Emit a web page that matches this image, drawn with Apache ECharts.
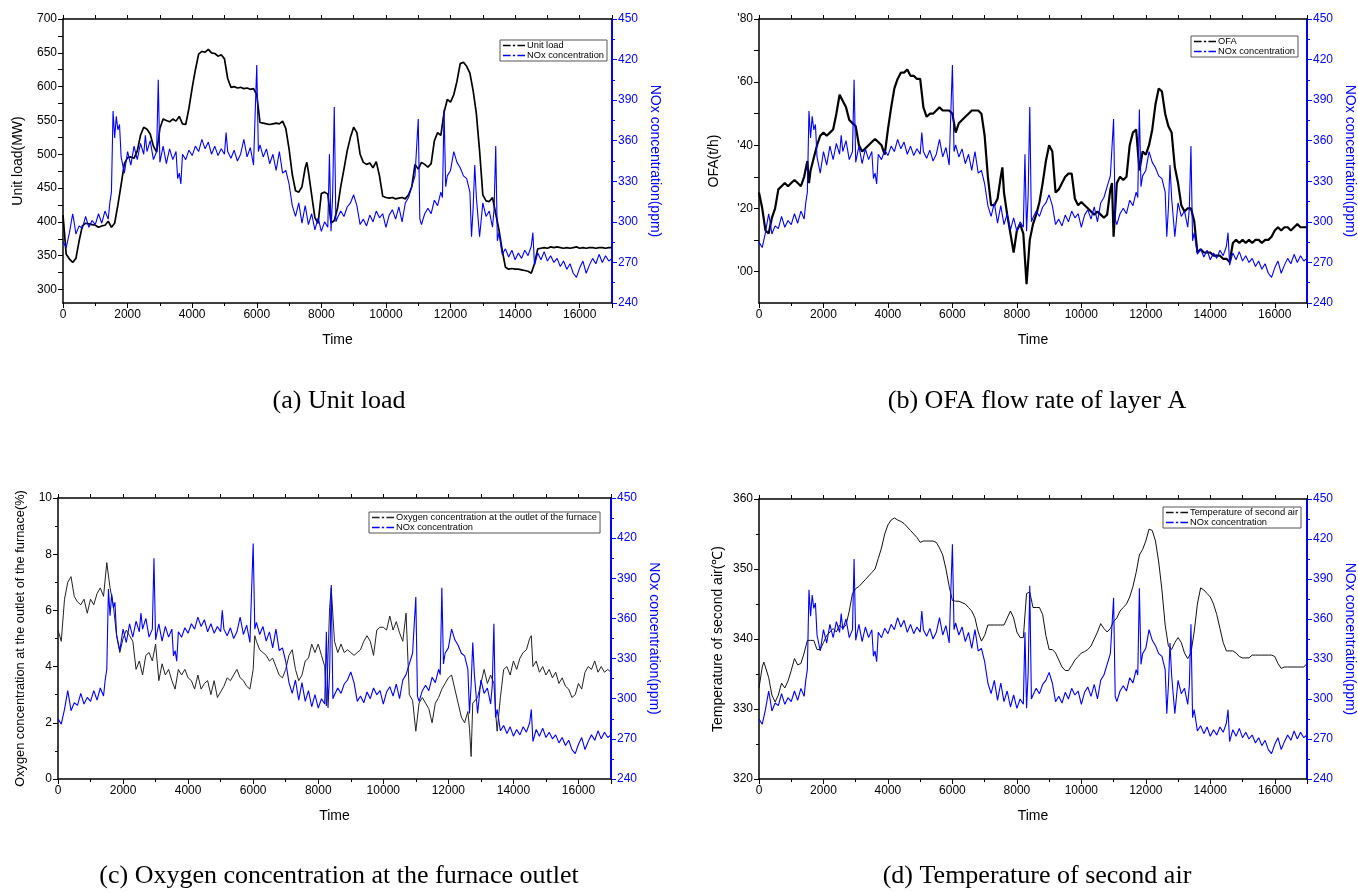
<!DOCTYPE html>
<html>
<head>
<meta charset="utf-8">
<script src="https://cdn.jsdelivr.net/npm/echarts@6/dist/echarts.min.js"></script>
<style>
  html, body { margin: 0; padding: 0; background: #fff; }
  #main { width: 1358px; height: 892px; }
</style>
</head>
<body>
<div id="main"></div>
<script>
// time (s), value pairs
const noxData = [[0,285],[100,281],[200,292],[300,306],[350,299],[400,291],[500,297],[600,295],[700,304],[800,296],[900,301],[1000,298],[1100,306],[1200,299],[1300,308],[1400,302],[1450,314],[1500,322],[1550,382],[1600,362],[1650,378],[1700,368],[1750,372],[1800,348],[1900,336],[2000,352],[2100,342],[2200,356],[2300,346],[2400,358],[2500,350],[2550,364],[2600,352],[2700,360],[2800,346],[2900,352],[2950,405],[3000,344],[3100,356],[3200,343],[3300,354],[3400,346],[3500,352],[3550,332],[3600,336],[3650,328],[3700,350],[3800,346],[3900,353],[4000,349],[4100,356],[4200,352],[4300,361],[4400,354],[4500,359],[4600,350],[4700,356],[4800,349],[4900,354],[5000,350],[5050,366],[5100,352],[5200,347],[5300,353],[5400,345],[5500,350],[5600,361],[5700,348],[5800,355],[5900,342],[5950,380],[6000,416],[6050,352],[6100,357],[6200,348],[6300,354],[6400,343],[6500,350],[6600,338],[6700,352],[6800,336],[6900,338],[7000,328],[7100,312],[7200,304],[7300,314],[7400,299],[7500,312],[7600,298],[7700,306],[7800,294],[7900,303],[8000,293],[8100,300],[8200,296],[8250,350],[8300,293],[8350,320],[8400,385],[8450,300],[8500,303],[8600,308],[8700,304],[8800,311],[8900,314],[9000,320],[9100,312],[9200,298],[9300,302],[9400,297],[9500,305],[9600,300],[9700,308],[9800,303],[9900,306],[10000,296],[10100,305],[10200,309],[10300,302],[10400,311],[10500,300],[10600,314],[10700,318],[10800,326],[10900,334],[11000,376],[11050,302],[11100,298],[11200,306],[11300,310],[11400,306],[11500,316],[11600,312],[11700,322],[11750,318],[11800,383],[11850,326],[11900,334],[12000,338],[12100,352],[12200,344],[12300,340],[12400,334],[12500,332],[12600,322],[12650,289],[12700,310],[12750,342],[12800,318],[12900,289],[13000,314],[13100,304],[13200,308],[13300,296],[13350,310],[13400,356],[13450,286],[13500,292],[13600,276],[13700,280],[13800,274],[13900,279],[14000,272],[14100,277],[14200,273],[14300,279],[14400,275],[14500,282],[14550,292],[14600,268],[14700,277],[14800,272],[14900,278],[15000,271],[15100,275],[15200,270],[15300,273],[15400,267],[15500,271],[15600,265],[15700,269],[15800,262],[15900,259],[16000,266],[16100,271],[16200,262],[16300,268],[16400,273],[16500,269],[16600,276],[16700,270],[16800,275],[16900,271],[17000,273]];

const loadData = [[0,410],[100,352],[200,345],[300,340],[400,346],[500,372],[600,394],[700,398],[800,397],[900,396],[1000,395],[1100,392],[1200,394],[1300,395],[1400,401],[1500,392],[1600,398],[1700,425],[1800,455],[1900,486],[2000,495],[2100,496],[2200,494],[2300,505],[2400,528],[2500,540],[2600,537],[2700,530],[2800,512],[2900,503],[2950,520],[3000,538],[3100,552],[3200,550],[3300,548],[3400,552],[3500,549],[3600,556],[3700,545],[3800,544],[3900,568],[4000,598],[4100,625],[4200,648],[4300,652],[4400,651],[4500,655],[4600,650],[4700,649],[4800,645],[4900,647],[5000,641],[5100,612],[5200,599],[5300,600],[5400,598],[5500,599],[5600,597],[5700,598],[5800,596],[5900,597],[6000,588],[6100,547],[6200,546],[6300,545],[6400,544],[6500,545],[6600,546],[6700,545],[6800,549],[6900,538],[7000,508],[7100,470],[7200,446],[7300,444],[7400,452],[7500,480],[7550,488],[7600,474],[7700,440],[7800,406],[7900,398],[8000,442],[8100,444],[8200,441],[8300,398],[8400,402],[8500,420],[8600,452],[8700,478],[8800,505],[8900,525],[9000,540],[9100,532],[9200,500],[9300,488],[9400,485],[9500,487],[9600,480],[9700,489],[9800,468],[9900,438],[10000,436],[10100,435],[10200,436],[10300,434],[10400,435],[10500,436],[10600,434],[10700,440],[10800,452],[10900,485],[11000,478],[11100,488],[11200,485],[11300,481],[11400,486],[11500,520],[11600,532],[11700,528],[11800,562],[11900,581],[12000,577],[12100,588],[12200,608],[12300,634],[12400,636],[12500,630],[12600,620],[12700,594],[12800,560],[12900,505],[13000,440],[13100,431],[13200,430],[13300,436],[13400,412],[13500,388],[13600,358],[13700,333],[13800,330],[13900,331],[14000,330],[14100,330],[14200,329],[14300,328],[14400,327],[14500,324],[14600,338],[14700,360],[14800,361],[14900,362],[15000,361],[15100,363],[15200,362],[15300,363],[15400,362],[15500,361],[15600,362],[15700,361],[15800,362],[15900,363],[16000,361],[16100,362],[16200,361],[16300,362],[16400,362],[16500,361],[16600,362],[16700,362],[16800,361],[16900,362],[17000,362]];

const ofaData = [[0,125],[100,120],[200,113],[300,112],[400,117],[500,120],[600,126],[700,127],[800,128],[900,127],[1000,128],[1100,129],[1200,128],[1300,127],[1400,130],[1500,135],[1550,128],[1600,132],[1700,136],[1800,140],[1900,143],[2000,144],[2100,143],[2200,144],[2300,145],[2400,150],[2500,156],[2600,154],[2700,152],[2800,148],[2900,147],[3000,146],[3100,140],[3200,138],[3300,139],[3400,140],[3500,141],[3600,142],[3700,141],[3800,140],[3900,137],[4000,145],[4100,152],[4200,158],[4300,161],[4400,163],[4500,163],[4600,164],[4700,162],[4800,162],[4900,161],[5000,161],[5100,152],[5200,149],[5300,150],[5400,150],[5500,151],[5600,152],[5700,151],[5800,151],[5900,151],[6000,150],[6100,144],[6200,147],[6300,148],[6400,149],[6500,150],[6600,151],[6700,151],[6800,151],[6900,150],[7000,143],[7100,130],[7200,121],[7300,121],[7400,123],[7500,130],[7550,133],[7600,125],[7700,118],[7800,112],[7900,106],[8000,113],[8100,115],[8200,112],[8300,96],[8400,110],[8500,115],[8600,118],[8700,122],[8800,128],[8900,135],[9000,140],[9100,138],[9200,125],[9300,126],[9400,128],[9500,130],[9600,131],[9700,131],[9800,123],[9900,121],[10000,122],[10100,121],[10200,120],[10300,119],[10400,118],[10500,119],[10600,118],[10700,117],[10800,118],[10900,126],[10950,128],[11000,111],[11100,128],[11200,130],[11300,129],[11400,130],[11500,140],[11600,144],[11700,145],[11800,132],[11900,138],[12000,137],[12100,140],[12200,145],[12300,153],[12400,158],[12500,157],[12600,150],[12700,146],[12800,144],[12900,133],[13000,128],[13100,121],[13200,119],[13300,120],[13400,120],[13500,116],[13600,106],[13700,107],[13800,106],[13900,106],[14000,106],[14100,105],[14200,105],[14300,105],[14400,104],[14500,104],[14600,103],[14700,109],[14800,110],[14900,109],[15000,110],[15100,109],[15200,110],[15300,109],[15400,110],[15500,110],[15600,109],[15700,110],[15800,110],[15900,111],[16000,113],[16100,114],[16200,113],[16300,114],[16400,114],[16500,113],[16600,114],[16700,115],[16800,114],[16900,114],[17000,114]];

const oxygenData = [[0,5.3],[100,4.9],[200,6.4],[300,7.0],[400,7.2],[500,6.5],[600,6.3],[700,6.2],[800,6.4],[900,5.9],[1000,6.4],[1100,6.2],[1200,6.6],[1300,6.8],[1400,6.5],[1500,7.7],[1600,6.8],[1700,6.2],[1800,5.1],[1900,4.5],[2000,5.0],[2100,5.3],[2200,5.1],[2300,4.9],[2400,3.9],[2500,4.2],[2600,3.7],[2700,4.4],[2800,4.5],[2900,4.2],[3000,4.8],[3100,3.5],[3200,4.1],[3300,3.7],[3400,3.9],[3500,3.5],[3600,3.2],[3700,3.9],[3800,3.7],[3900,3.9],[4000,3.6],[4100,3.5],[4200,3.2],[4300,3.7],[4400,3.2],[4500,3.4],[4600,3.5],[4700,3.0],[4800,3.5],[4900,2.9],[5000,3.1],[5100,3.3],[5200,3.6],[5300,3.5],[5400,3.7],[5500,3.9],[5600,3.6],[5700,3.5],[5800,3.3],[5900,3.2],[6000,3.9],[6050,5.1],[6100,4.9],[6200,4.6],[6300,4.5],[6400,4.4],[6500,4.2],[6600,4.3],[6700,4.0],[6800,3.7],[6900,3.6],[7000,3.9],[7100,4.4],[7200,4.6],[7300,3.9],[7400,3.5],[7500,3.7],[7600,4.2],[7700,4.3],[7800,4.8],[7900,4.5],[8000,4.8],[8100,4.4],[8200,4.0],[8250,2.6],[8350,6.1],[8400,6.8],[8500,4.9],[8600,4.5],[8700,4.8],[8800,4.5],[8900,4.6],[9000,4.5],[9100,4.4],[9200,4.5],[9300,4.6],[9400,4.9],[9500,5.1],[9600,4.9],[9700,4.4],[9800,5.3],[9900,5.4],[10000,5.4],[10100,5.3],[10200,5.8],[10300,5.3],[10400,5.6],[10500,5.2],[10600,4.9],[10700,5.9],[10800,3.0],[10900,2.8],[11000,1.7],[11100,2.7],[11200,2.9],[11300,2.7],[11400,2.5],[11500,2.0],[11600,2.7],[11700,2.9],[11800,3.2],[11900,3.4],[12000,3.6],[12100,3.7],[12200,3.2],[12300,2.7],[12400,2.2],[12500,2.0],[12600,2.4],[12650,1.8],[12700,0.8],[12750,2.7],[12800,2.7],[12900,2.9],[13000,3.4],[13100,3.9],[13200,3.4],[13300,3.7],[13400,3.4],[13450,2.4],[13500,1.7],[13600,2.9],[13700,3.9],[13800,4.0],[13900,3.7],[14000,4.2],[14100,3.9],[14200,4.3],[14300,4.5],[14400,4.6],[14500,5.0],[14550,5.1],[14600,4.0],[14700,4.2],[14800,3.8],[14900,4.0],[15000,3.7],[15100,3.9],[15200,3.6],[15300,3.8],[15400,3.4],[15500,3.6],[15600,3.3],[15700,3.2],[15800,2.9],[15900,3.0],[16000,3.4],[16100,3.2],[16200,3.8],[16300,4.0],[16400,3.9],[16500,4.2],[16600,3.8],[16700,4.0],[16800,3.8],[16900,3.9],[17000,3.8]];

const tempData = [[0,333],[100,336],[150,336.7],[200,336],[300,334.5],[400,332],[500,331],[600,332],[700,333.7],[800,333],[900,334],[1000,335.5],[1100,337.2],[1200,336.3],[1300,336.5],[1400,338],[1500,339.8],[1600,339.8],[1700,339.8],[1800,338.5],[1900,338.5],[2000,339.5],[2100,340.5],[2200,341],[2300,341.5],[2400,341],[2500,342],[2600,341.5],[2700,342],[2800,344],[2900,346.5],[3000,347.2],[3100,347.5],[3200,348],[3300,348.5],[3400,349],[3500,349.5],[3600,350],[3700,351.5],[3800,353],[3900,355],[4000,356.3],[4100,357],[4200,357.3],[4300,357],[4400,356.8],[4500,356.5],[4600,356],[4700,355.5],[4800,355],[4900,354.5],[5000,353.8],[5100,354],[5200,354],[5300,354],[5400,354],[5500,353.8],[5600,353],[5700,352],[5800,350],[5900,347.5],[6000,345.5],[6100,345.4],[6200,345.4],[6300,345.2],[6400,345],[6500,344.5],[6600,344],[6700,343],[6800,341],[6900,339.7],[7000,340.5],[7100,342],[7200,342],[7300,342],[7400,342],[7500,342],[7600,342],[7700,343],[7800,344],[7900,343],[8000,341],[8100,340.2],[8200,340.2],[8300,346.5],[8400,346.7],[8500,344.5],[8600,344.5],[8700,344.5],[8800,343.5],[8900,340.5],[9000,338.5],[9100,338.5],[9200,338],[9300,337],[9400,336],[9500,335.5],[9600,335.5],[9700,336.2],[9800,337],[9900,337.5],[10000,338],[10100,338.2],[10200,338.5],[10300,339],[10400,340],[10500,341],[10600,342.2],[10700,341.5],[10800,341],[10900,341.5],[11000,342.5],[11100,343],[11200,344],[11300,344.5],[11400,345],[11500,346],[11600,347.5],[11700,349.5],[11800,352],[11900,352.8],[12000,354],[12100,355.7],[12200,355.5],[12300,354],[12400,351],[12500,347],[12600,342],[12700,339],[12800,338.5],[12900,339.5],[13000,340.2],[13100,339.5],[13200,338],[13300,337.2],[13400,338],[13500,341],[13600,345],[13700,347.3],[13800,347],[13900,346.5],[14000,346],[14100,345],[14200,343.5],[14300,341.5],[14400,339.5],[14500,338.3],[14600,338.3],[14700,338.3],[14800,338],[14900,337.5],[15000,337.3],[15100,337.3],[15200,337.3],[15300,337.7],[15400,337.7],[15500,337.7],[15600,337.7],[15700,337.7],[15800,337.7],[15900,337.7],[16000,337.5],[16100,336.5],[16200,335.8],[16300,336],[16400,336],[16500,336],[16600,336],[16700,336],[16800,336],[16900,336],[17000,336.5]];

const loadLabels = [300, 350, 400, 450, 500, 550, 600, 650, 700];
const loadTicks = [300, 325, 350, 375, 400, 425, 450, 475, 500, 525, 550, 575, 600, 625, 650, 675, 700];
const ofaLabels = [100, 120, 140, 160, 180];
const ofaTicks = [100, 110, 120, 130, 140, 150, 160, 170, 180];

const captions = ['(a) Unit load', '(b) OFA flow rate of layer A',
  '(c) Oxygen concentration at the furnace outlet', '(d) Temperature of second air'];

const BLUE = '#0000ff';
const grids = [
  { left: 63, top: 19, width: 549, height: 284 },
  { left: 759, top: 19, width: 549, height: 284 },
  { left: 58, top: 498, width: 553, height: 281 },
  { left: 759, top: 499, width: 549, height: 280 }
];

const font = 'Liberation Sans';

function xAxes(g) {
  return [
    {
      type: 'value', gridIndex: g, position: 'bottom', min: 0, max: 17000, interval: 2000,
      name: 'Time', nameLocation: 'middle', nameGap: 30,
      nameTextStyle: { fontFamily: font, fontSize: 14, color: '#000' },
      axisLine: { onZero: false, lineStyle: { color: '#000', width: 1.5 } },
      axisTick: { length: 5, lineStyle: { color: '#000' } },
      minorTick: { show: true, splitNumber: 2, length: 3, lineStyle: { color: '#000' } },
      axisLabel: { fontFamily: font, fontSize: 12, color: '#000', margin: 6, formatter: v => String(v) },
      splitLine: { show: false }
    },
    {
      type: 'value', gridIndex: g, position: 'top', min: 0, max: 17000, interval: 2000,
      axisLine: { onZero: false, lineStyle: { color: '#000', width: 1.5 } },
      axisTick: { length: 4, lineStyle: { color: '#000' } },
      minorTick: { show: true, splitNumber: 2, length: 4, lineStyle: { color: '#000' } },
      axisLabel: { show: false },
      splitLine: { show: false }
    }
  ];
}

function rightAxis(g) {
  return {
    type: 'value', gridIndex: g, position: 'right', min: 240, max: 450, interval: 30,
    name: 'NOx concentration(ppm)', nameLocation: 'middle', nameGap: 36, nameRotate: -90,
    nameTextStyle: { fontFamily: font, fontSize: 14, color: BLUE },
    axisLine: { show: true, onZero: false, lineStyle: { color: BLUE, width: 2 } },
    axisTick: { show: true, length: 5, lineStyle: { color: BLUE } },
    minorTick: { show: true, splitNumber: 2, length: 3, lineStyle: { color: BLUE } },
    axisLabel: { fontFamily: font, fontSize: 12, color: BLUE, margin: 6 },
    splitLine: { show: false }
  };
}

function leftAxis(g, opts) {
  return Object.assign({
    type: 'value', gridIndex: g, position: 'left',
    nameLocation: 'middle', nameGap: 38,
    nameTextStyle: { fontFamily: font, fontSize: 14, color: '#000' },
    axisLine: { show: true, onZero: false, lineStyle: { color: '#000', width: 1.5 } },
    axisTick: { show: true, length: 5, lineStyle: { color: '#000' } },
    minorTick: { show: true, splitNumber: 2, length: 3, lineStyle: { color: '#000' } },
    axisLabel: { fontFamily: font, fontSize: 12, color: '#000', margin: 6 },
    splitLine: { show: false }
  }, opts);
}

const yAxes = [
  leftAxis(0, {
    name: 'Unit load(MW)', min: 280, max: 700,
    axisLabel: { fontFamily: font, fontSize: 12, color: '#000', margin: 6, customValues: loadLabels },
    axisTick: { show: true, length: 5, lineStyle: { color: '#000' }, customValues: loadTicks },
    minorTick: { show: false }
  }),
  rightAxis(0),
  leftAxis(1, {
    name: 'OFA(t/h)', min: 90, max: 180,
    axisLabel: { fontFamily: font, fontSize: 12, color: '#000', margin: 6, customValues: ofaLabels,
      formatter: v => "'" + String(v).slice(1) },
    axisTick: { show: true, length: 5, lineStyle: { color: '#000' }, customValues: ofaTicks },
    minorTick: { show: false }
  }),
  rightAxis(1),
  leftAxis(2, {
    name: 'Oxygen concentration at the outlet of the furnace(%)', min: 0, max: 10, interval: 2,
    nameGap: 31, nameTextStyle: { fontFamily: font, fontSize: 12.8, color: '#000' }
  }),
  rightAxis(2),
  leftAxis(3, {
    name: 'Temperature of second air(\u2103)', min: 320, max: 360, interval: 10, nameGap: 34
  }),
  rightAxis(3)
];

const legendIcon = 'path://M0,0h10v2h-10z M13,0h3v2h-3z M19,0h10v2h-10z';
function legend(left, top, names) {
  return {
    left: left, top: top, orient: 'vertical', data: names,
    icon: legendIcon, itemWidth: 22, itemHeight: 6, itemGap: 1,
    padding: [1, 3, 1, 3],
    backgroundColor: '#fff', borderColor: '#555', borderWidth: 1, borderRadius: 0,
    textStyle: { fontFamily: font, fontSize: 9.3, color: '#000', padding: [0, 0, 0, -3] },
    selectedMode: false
  };
}

function line(name, data, xi, yi, color, width) {
  return {
    type: 'line', name: name, data: data, xAxisIndex: xi, yAxisIndex: yi,
    showSymbol: false, symbol: 'none', color: color,
    lineStyle: { color: color, width: width }, animation: false
  };
}

const chart = echarts.init(document.getElementById('main'));
chart.setOption({
  animation: false,
  backgroundColor: '#fff',
  grid: grids,
  xAxis: [].concat(xAxes(0), xAxes(1), xAxes(2), xAxes(3)),
  yAxis: yAxes,
  legend: [
    legend(500, 40, ['Unit load', 'NOx concentration']),
    legend(1191, 36, ['OFA', 'NOx concentration']),
    legend(369, 512, ['Oxygen concentration at the outlet of the furnace', 'NOx concentration']),
    legend(1163, 507, ['Temperature of second air', 'NOx concentration'])
  ],
  series: [
    line('Unit load', loadData, 0, 0, '#000', 1.7),
    line('NOx concentration', noxData, 0, 1, BLUE, 1.1),
    line('OFA', ofaData, 2, 2, '#000', 2.2),
    line('NOx concentration', noxData, 2, 3, BLUE, 1.1),
    line('Oxygen concentration at the outlet of the furnace', oxygenData, 4, 4, '#222', 1),
    line('NOx concentration', noxData, 4, 5, BLUE, 1.1),
    line('Temperature of second air', tempData, 6, 6, '#111', 1),
    line('NOx concentration', noxData, 6, 7, BLUE, 1.1)
  ],
  graphic: captions.map((t, i) => ({
    type: 'text',
    x: i % 2 === 0 ? 339 : 1037,
    y: i < 2 ? 401 : 876,
    style: { text: t, font: '26px "Liberation Serif"', fill: '#000', textAlign: 'center', textVerticalAlign: 'middle' }
  }))
});
</script>
</body>
</html>
